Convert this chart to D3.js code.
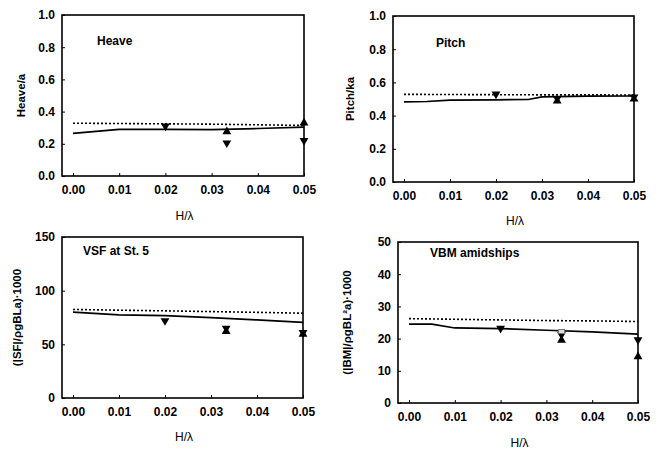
<!DOCTYPE html>
<html>
<head>
<meta charset="utf-8">
<script src="https://cdn.jsdelivr.net/npm/d3@7"></script>
<style>
  body { margin: 0; background: #fff; }
  svg { font-family: "Liberation Sans", Arial, sans-serif; }
</style>
</head>
<body>
<svg id="chart" width="660" height="451"></svg>
<script>
// x positions of the computed curves
const lineX = [0, 0.01, 0.02, 0.03, 0.04, 0.05]
const xTicks = [0, 0.01, 0.02, 0.03, 0.04, 0.05]

// Heave
const heaveSolid = [0.265, 0.29, 0.29, 0.288, 0.295, 0.303]
const heaveDotted = [0.328, 0.326, 0.324, 0.322, 0.318, 0.314]
const heaveDown = [[0.02, 0.31], [0.0333, 0.205], [0.05, 0.22]]
const heaveUp = [[0.0333, 0.275], [0.05, 0.33]]

// Pitch
const pitchSolidX = [0, 0.005, 0.01, 0.02, 0.027, 0.03, 0.04, 0.05]
const pitchSolid = [0.483, 0.485, 0.493, 0.495, 0.497, 0.513, 0.517, 0.518]
const pitchDotted = [0.528, 0.527, 0.526, 0.525, 0.525, 0.524]
const pitchDown = [[0.02, 0.53], [0.0333, 0.503], [0.05, 0.512]]
const pitchUp = [[0.0333, 0.488], [0.05, 0.5]]

// VSF at St. 5
const vsfSolid = [80, 77.5, 76.8, 74.8, 72.7, 70.5]
const vsfDotted = [82.5, 81.8, 81.2, 80.5, 79.8, 79]
const vsfDown = [[0.02, 72], [0.0333, 65], [0.05, 61]]
const vsfUp = [[0.0333, 62], [0.05, 59.5]]

// VBM amidships
const vbmSolidX = [0, 0.005, 0.01, 0.02, 0.03, 0.04, 0.05]
const vbmSolid = [24.5, 24.5, 23.3, 23.1, 22.6, 22.1, 21.4]
const vbmDotted = [26.2, 26.0, 25.8, 25.6, 25.5, 25.3]
const vbmDown = [[0.02, 23.2], [0.0333, 21.2], [0.05, 19.6]]
const vbmUp = [[0.0333, 19.5], [0.05, 14.4]]
const vbmOpen = [[0.0333, 22.2]]

const panels = [
  {title: "Heave", ylabel: "Heave/a", yDomain: [0, 1], yTicks: [0, 0.2, 0.4, 0.6, 0.8, 1.0], fmt: d3.format(".1f"),
   left: 62, x0: 73, x1: 304, top: 15, bottom: 176, titleX: 97, titleY: 45, ylabX: 25, xlabY: 220,
   solidX: lineX, solid: heaveSolid, dotted: heaveDotted, down: heaveDown, up: heaveUp, open: []},
  {title: "Pitch", ylabel: "Pitch/ka", yDomain: [0, 1], yTicks: [0, 0.2, 0.4, 0.6, 0.8, 1.0], fmt: d3.format(".1f"),
   left: 393, x0: 404, x1: 634, top: 16, bottom: 182, titleX: 436, titleY: 47, ylabX: 354, xlabY: 225,
   solidX: pitchSolidX, solid: pitchSolid, dotted: pitchDotted, down: pitchDown, up: pitchUp, open: []},
  {title: "VSF at St. 5", ylabel: "(|SF|/ρgBLa)·1000", yDomain: [0, 150], yTicks: [0, 50, 100, 150], fmt: d3.format("d"),
   left: 62, x0: 73, x1: 303, top: 237, bottom: 398, titleX: 83, titleY: 255, ylabX: 21, xlabY: 441,
   solidX: lineX, solid: vsfSolid, dotted: vsfDotted, down: vsfDown, up: vsfUp, open: []},
  {title: "VBM amidships", ylabel: "(|BM|/ρgBL²a)·1000", yDomain: [0, 50], yTicks: [0, 10, 20, 30, 40, 50], fmt: d3.format("d"),
   left: 398, x0: 409, x1: 638, top: 242, bottom: 403, titleX: 430, titleY: 257, ylabX: 351, xlabY: 447,
   solidX: vbmSolidX, solid: vbmSolid, dotted: vbmDotted, down: vbmDown, up: vbmUp, open: vbmOpen}
]

const svg = d3.select("#chart")
const tri = d3.symbol().type(d3.symbolTriangle).size(34)

panels.forEach(p => {
  const dx = (p.x1 - p.x0) / 0.05
  const x = d3.scaleLinear()
    .domain([-(p.x0 - p.left) / dx, 0.05])
    .range([p.left, p.x1])
  const y = d3.scaleLinear().domain(p.yDomain).range([p.bottom, p.top])
  const g = svg.append("g")

  // frame
  g.append("rect")
    .attr("x", p.left).attr("y", p.top)
    .attr("width", p.x1 - p.left).attr("height", p.bottom - p.top)
    .attr("fill", "none").attr("stroke", "#000").attr("stroke-width", 1.6)

  g.append("g")
    .attr("transform", `translate(0,${p.bottom})`)
    .call(d3.axisBottom(x).tickValues(xTicks).tickFormat(d3.format(".2f")).tickSize(-3).tickPadding(9))
    .call(a => a.select(".domain").remove())
    .call(a => a.selectAll("text").attr("font-size", 12).attr("font-weight", "bold").attr("font-family", "Liberation Sans, Arial"))

  g.append("g")
    .attr("transform", `translate(${p.left},0)`)
    .call(d3.axisLeft(y).tickValues(p.yTicks).tickFormat(p.fmt).tickSize(-3).tickPadding(7))
    .call(a => a.select(".domain").remove())
    .call(a => a.selectAll("text").attr("font-size", 12).attr("font-weight", "bold").attr("font-family", "Liberation Sans, Arial"))

  const line = d3.line().x(d => x(d[0])).y(d => y(d[1]))

  g.append("path")
    .datum(p.dotted.map((v, i) => [lineX[i], v]))
    .attr("d", line).attr("fill", "none")
    .attr("stroke", "#000").attr("stroke-width", 1.6).attr("stroke-dasharray", "2,2")

  g.append("path")
    .datum(p.solid.map((v, i) => [p.solidX[i], v]))
    .attr("d", line).attr("fill", "none")
    .attr("stroke", "#000").attr("stroke-width", 1.7)

  g.selectAll(".dn").data(p.down).join("path")
    .attr("d", tri)
    .attr("transform", d => `translate(${x(d[0])},${y(d[1])}) rotate(180)`)
    .attr("fill", "#000")

  g.selectAll(".up").data(p.up).join("path")
    .attr("d", tri)
    .attr("transform", d => `translate(${x(d[0])},${y(d[1])})`)
    .attr("fill", "#000")

  g.selectAll(".op").data(p.open).join("rect")
    .attr("x", d => x(d[0]) - 3).attr("y", d => y(d[1]) - 2)
    .attr("width", 6).attr("height", 4)
    .attr("fill", "#ddd").attr("stroke", "#777").attr("stroke-width", 1)

  g.append("text")
    .attr("x", p.titleX).attr("y", p.titleY)
    .attr("font-size", 12).attr("font-weight", "bold")
    .text(p.title)

  g.append("text")
    .attr("transform", `translate(${p.ylabX},${(p.top + p.bottom) / 2}) rotate(-90)`)
    .attr("text-anchor", "middle")
    .attr("font-size", 11.5).attr("font-weight", "bold")
    .text(p.ylabel)

  g.append("text")
    .attr("x", (p.x0 + p.x1) / 2 - 4).attr("y", p.xlabY)
    .attr("text-anchor", "middle")
    .attr("font-size", 12)
    .text("H/λ")
})
</script>
</body>
</html>
